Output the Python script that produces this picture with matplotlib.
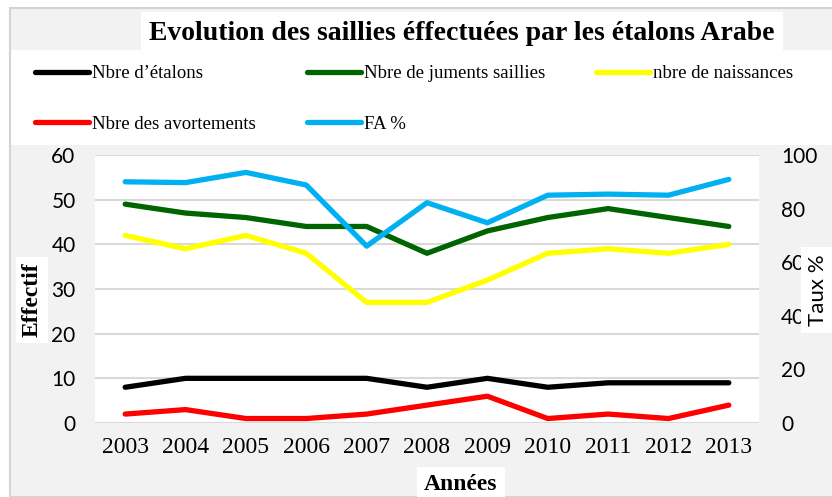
import matplotlib
matplotlib.use('Agg')
import matplotlib.pyplot as plt
from matplotlib.patches import Rectangle

# data
years = ['2003', '2004', '2005', '2006', '2007', '2008', '2009', '2010', '2011', '2012', '2013']
nb_etalons = [8, 10, 10, 10, 10, 8, 10, 8, 9, 9, 9]
nb_juments = [49, 47, 46, 44, 44, 38, 43, 46, 48, 46, 44]
nb_naissances = [42, 39, 42, 38, 27, 27, 32, 38, 39, 38, 40]
nb_avortements = [2, 3, 1, 1, 2, 4, 6, 1, 2, 1, 4]
fa_pct = [90, 89.7, 93.5, 88.8, 66, 82.2, 74.7, 85, 85.4, 85, 90.9]

left_ticks = [0, 10, 20, 30, 40, 50, 60]
right_ticks = [0, 20, 40, 60, 80, 100]

W, H = 832, 497
serif = 'Liberation Serif'
sans = 'Lato'

fig = plt.figure(figsize=(W / 100, H / 100), dpi=100)
fig.patch.set_facecolor('white')

# grey chart area + white legend strip
fig.add_artist(Rectangle((10 / W, 0), 1, (H - 8) / H, transform=fig.transFigure,
                         facecolor='#f2f2f2', edgecolor='#d4d4d4', lw=1.5, zorder=-5))
fig.add_artist(Rectangle((11 / W, (H - 145) / H), 1, 95 / H, transform=fig.transFigure,
                         facecolor='white', edgecolor='none', zorder=-4))

ax = fig.add_axes([95 / W, 74 / H, 664 / W, 268 / H])
ax.set_facecolor('white')
x = range(len(years))

lw = 3.8
l1, = ax.plot(x, nb_etalons, color='black', lw=lw, solid_capstyle='round', label="Nbre d\u2019étalons")
l2, = ax.plot(x, nb_juments, color='#006400', lw=lw, solid_capstyle='round', label='Nbre de juments saillies')
l3, = ax.plot(x, nb_naissances, color='#ffff00', lw=lw, solid_capstyle='round', label='nbre de naissances')
l4, = ax.plot(x, nb_avortements, color='#ff0000', lw=lw, solid_capstyle='round', label='Nbre des avortements')

ax.set_xlim(-0.5, len(years) - 0.5)
ax.set_ylim(0, 60)
ax.set_yticks(left_ticks)
ax.set_xticks(list(x))
ax.set_xticklabels(years, fontfamily=serif, fontsize=17)
ax.tick_params(axis='y', labelsize=15, length=0, pad=14)
ax.tick_params(axis='x', length=0, pad=10)
for lab in ax.get_yticklabels():
    lab.set_fontfamily(sans)
ax.grid(axis='y', color='#d9d9d9', lw=1.5)
ax.set_axisbelow(True)
for s in ax.spines.values():
    s.set_visible(False)

ax2 = ax.twinx()
l5, = ax2.plot(x, fa_pct, color='#00b0f0', lw=lw, solid_capstyle='round', label='FA %')
ax2.set_ylim(0, 100)
ax2.set_yticks(right_ticks)
ax2.tick_params(axis='y', labelsize=15, length=0, pad=16)
for lab in ax2.get_yticklabels():
    lab.set_fontfamily(sans)
for s in ax2.spines.values():
    s.set_visible(False)

# title
fig.text(462 / W, (H - 33) / H, 'Evolution des saillies éffectuées par les étalons Arabe',
         ha='center', va='center', fontfamily=serif, fontweight='bold', fontsize=20,
         bbox=dict(facecolor='white', edgecolor='none', pad=6))

# legend: two rows, three columns
fig.legend([l1, l4, l2, l5, l3],
           [l1.get_label(), l4.get_label(), l2.get_label(), l5.get_label(), l3.get_label()],
           ncol=3, loc='upper left', bbox_to_anchor=(35 / W, (H - 65) / H),
           frameon=False, prop={'family': serif, 'size': 13.5},
           handlelength=2.9, handletextpad=0.15, columnspacing=2.7, labelspacing=1.8,
           borderaxespad=0, borderpad=0)

# axis labels
fig.text(32 / W, (H - 300) / H, 'Effectif', rotation=90, ha='center', va='center',
         fontfamily=serif, fontweight='bold', fontsize=17,
         bbox=dict(facecolor='white', edgecolor='none', pad=4))
fig.text(818 / W, (H - 290) / H, 'Taux %', rotation=90, ha='center', va='center',
         fontfamily=sans, fontsize=16,
         bbox=dict(facecolor='white', edgecolor='none', pad=5))
fig.text(461 / W, (H - 484) / H, 'Années', ha='center', va='center',
         fontfamily=serif, fontweight='bold', fontsize=17,
         bbox=dict(facecolor='white', edgecolor='none', pad=5))

fig.savefig('out.png', dpi=100)
